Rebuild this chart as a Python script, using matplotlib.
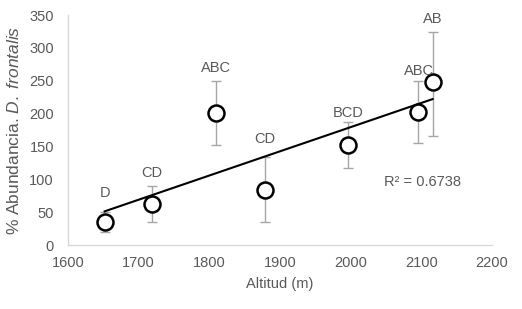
import matplotlib.pyplot as plt
import numpy as np

altitud = [1652, 1719, 1810, 1879, 1997, 2096, 2116]
abundancia = [35, 63, 201, 84, 153, 203, 248]
err_low = [15, 28, 48, 49, 36, 48, 82]
err_high = [15, 27, 49, 50, 35, 46, 77]
letras = ["D", "CD", "ABC", "CD", "BCD", "ABC", "AB"]
letra_y = [79, 110, 269, 161, 201, 265, 344]
r2_text = "R² = 0.6738"

plt.rcParams['font.family'] = ['Liberation Sans', 'DejaVu Sans']
plt.rcParams['mathtext.fontset'] = 'custom'
plt.rcParams['mathtext.rm'] = 'Liberation Sans'
plt.rcParams['mathtext.it'] = 'Liberation Sans:italic'
gris = "#595959"

fig = plt.figure(figsize=(5.22, 3.09), dpi=100)
ax = fig.add_axes([0.130, 0.207, 0.8125, 0.744])

ax.errorbar(altitud, abundancia, yerr=[err_low, err_high], fmt="none",
            ecolor="#A6A6A6", elinewidth=1, capsize=3.5, capthick=1, zorder=1)

# linear trend
m, b = np.polyfit(altitud, abundancia, 1)
xs = np.array([min(altitud), max(altitud)])
ax.plot(xs, m * xs + b, color="black", lw=1.5, zorder=2)

ax.plot(altitud, abundancia, "o", ms=11.5, mfc="white", mec="black", mew=1.8, zorder=3)

for x, y, t in zip(altitud, letra_y, letras):
    ax.text(x, y, t, ha="center", va="center", fontsize=10.5, color=gris)

ax.text(2047, 96, r2_text, ha="left", va="center", fontsize=10.5, color=gris)

ax.set_xlim(1600, 2200)
ax.set_ylim(0, 350)
ax.set_xticks(range(1600, 2201, 100))
ax.set_yticks(range(0, 351, 50))
ax.tick_params(length=0, labelsize=10.5, labelcolor=gris)
ax.tick_params(axis="y", pad=10)
ax.tick_params(axis="x", pad=8)
for s in ["top", "right"]:
    ax.spines[s].set_visible(False)
for s in ["left", "bottom"]:
    ax.spines[s].set_color("#D9D9D9")
    ax.spines[s].set_linewidth(1)

ax.set_xlabel("Altitud (m)", fontsize=10.5, color=gris, labelpad=5)
ax.set_ylabel("% Abundancia. $\\it{D.\\ frontalis}$", fontsize=12.5, color=gris, labelpad=5)

fig.savefig("out.png", dpi=100)
